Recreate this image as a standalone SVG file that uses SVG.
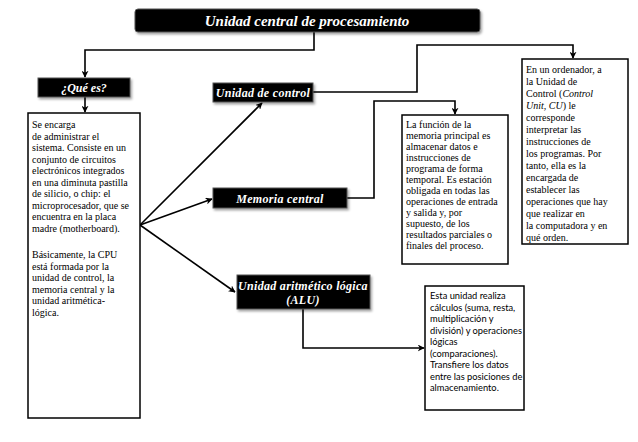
<svg xmlns="http://www.w3.org/2000/svg" width="638" height="442" viewBox="0 0 638 442">
<defs>
<marker id="ah" viewBox="0 0 10 10" refX="9" refY="5" markerWidth="7" markerHeight="7" markerUnits="userSpaceOnUse" orient="auto">
<path d="M0,0 L10,5 L0,10 L3,5 Z" fill="#000"/>
</marker>
<filter id="sh" x="-10%" y="-30%" width="120%" height="170%">
<feDropShadow dx="1.5" dy="2" stdDeviation="1" flood-color="#000" flood-opacity="0.35"/>
</filter>
</defs>
<style>
.blk{fill:#000;stroke:#555;stroke-width:1;filter:url(#sh)}
.lbl{font-weight:bold;font-style:italic;fill:#fff;text-anchor:middle}
.box{fill:#fff;stroke:#000;stroke-width:1.5}
.st{font-size:10px;fill:#000}
.ss{font-size:9.3px;fill:#000}
.c{fill:none;stroke:#000;stroke-width:1.6;marker-end:url(#ah)}
</style>
<rect width="638" height="442" fill="#fff"/>
<g id="connectors">
<path class="c" d="M314,32 V50 H85 V77"/>
<path class="c" d="M85,97 V112"/>
<path class="c" d="M140,225 L262,103"/>
<path class="c" d="M140,225 L212,199"/>
<path class="c" d="M140,225 L235,292"/>
<path class="c" d="M313,92 H417 V45 H573 V58"/>
<path class="c" d="M347,198 H374 V101 H455 V114"/>
<path class="c" d="M303,309 V348 H424"/>
</g>
<g id="title">
<rect class="blk" x="135" y="9" width="345" height="23" rx="3"/>
<text class="lbl" x="307" y="26" font-size="15" font-family="Liberation Serif, DejaVu Serif, serif">Unidad central de procesamiento</text>
</g>
<g id="que-es">
<rect class="blk" x="38" y="78" width="92" height="19"/>
<text class="lbl" x="84" y="92" font-size="12" font-family="Liberation Serif, DejaVu Serif, serif">¿Qué es?</text>
</g>
<g id="que-es-texto">
<rect class="box" x="28" y="113" width="112" height="305"/>
<text class="st" font-family="Liberation Serif, DejaVu Serif, serif">
<tspan x="32" y="128">Se encarga</tspan>
<tspan x="32" y="139.5">de administrar el</tspan>
<tspan x="32" y="151">sistema. Consiste en un</tspan>
<tspan x="32" y="162.5">conjunto de circuitos</tspan>
<tspan x="32" y="174">electrónicos integrados</tspan>
<tspan x="32" y="185.5">en una diminuta pastilla</tspan>
<tspan x="32" y="197">de silicio, o chip: el</tspan>
<tspan x="32" y="208.5">microprocesador, que se</tspan>
<tspan x="32" y="220">encuentra en la placa</tspan>
<tspan x="32" y="231.5">madre (motherboard).</tspan>
<tspan x="32" y="258">Básicamente, la CPU</tspan>
<tspan x="32" y="269.5">está formada por la</tspan>
<tspan x="32" y="281">unidad de control, la</tspan>
<tspan x="32" y="292.5">memoria central y la</tspan>
<tspan x="32" y="304">unidad aritmética-</tspan>
<tspan x="32" y="315.5">lógica.</tspan>
</text>
</g>
<g id="unidad-control">
<rect class="blk" x="213" y="83" width="100" height="19"/>
<text class="lbl" x="263" y="97" font-size="12" letter-spacing="0.3" font-family="Liberation Serif, DejaVu Serif, serif">Unidad de control</text>
</g>
<g id="memoria-central">
<rect class="blk" x="213" y="188" width="134" height="20"/>
<text class="lbl" x="280" y="203" font-size="12" letter-spacing="0.3" font-family="Liberation Serif, DejaVu Serif, serif">Memoria central</text>
</g>
<g id="alu">
<rect class="blk" x="237" y="275" width="133" height="34"/>
<text class="lbl" x="303" y="290" font-size="12" letter-spacing="0.3" font-family="Liberation Serif, DejaVu Serif, serif">Unidad aritmético lógica</text>
<text class="lbl" x="303" y="304" font-size="12" letter-spacing="0.3" font-family="Liberation Serif, DejaVu Serif, serif">(ALU)</text>
</g>
<g id="control-texto">
<rect class="box" x="522" y="59" width="106" height="185"/>
<text class="st" font-family="Liberation Serif, DejaVu Serif, serif">
<tspan x="526" y="73">En un ordenador, a</tspan>
<tspan x="526" y="85">la Unidad de</tspan>
<tspan x="526" y="97">Control (<tspan font-style="italic">Control</tspan></tspan>
<tspan x="526" y="109"><tspan font-style="italic">Unit</tspan>, <tspan font-style="italic">CU</tspan>) le</tspan>
<tspan x="526" y="121">corresponde</tspan>
<tspan x="526" y="133">interpretar las</tspan>
<tspan x="526" y="145">instrucciones de</tspan>
<tspan x="526" y="157">los programas. Por</tspan>
<tspan x="526" y="169">tanto, ella es la</tspan>
<tspan x="526" y="181">encargada de</tspan>
<tspan x="526" y="193">establecer las</tspan>
<tspan x="526" y="205">operaciones que hay</tspan>
<tspan x="526" y="217">que realizar en</tspan>
<tspan x="526" y="229">la computadora y en</tspan>
<tspan x="526" y="241">qué orden.</tspan>
</text>
</g>
<g id="memoria-texto">
<rect class="box" x="402" y="115" width="106" height="149"/>
<text class="st" font-family="Liberation Serif, DejaVu Serif, serif">
<tspan x="406" y="128">La función de la</tspan>
<tspan x="406" y="139">memoria principal es</tspan>
<tspan x="406" y="150">almacenar datos e</tspan>
<tspan x="406" y="161">instrucciones de</tspan>
<tspan x="406" y="172">programa de forma</tspan>
<tspan x="406" y="183">temporal. Es estación</tspan>
<tspan x="406" y="194">obligada en todas las</tspan>
<tspan x="406" y="205">operaciones de entrada</tspan>
<tspan x="406" y="216">y salida y, por</tspan>
<tspan x="406" y="227">supuesto, de los</tspan>
<tspan x="406" y="238">resultados parciales o</tspan>
<tspan x="406" y="249">finales del proceso.</tspan>
</text>
</g>
<g id="alu-texto">
<rect class="box" x="425" y="286" width="99" height="124"/>
<text class="ss" font-family="Lato, Liberation Sans, sans-serif">
<tspan x="430" y="299">Esta unidad realiza</tspan>
<tspan x="430" y="310.5">cálculos (suma, resta,</tspan>
<tspan x="430" y="322">multiplicación y</tspan>
<tspan x="430" y="333.5">división) y operaciones</tspan>
<tspan x="430" y="345">lógicas</tspan>
<tspan x="430" y="356.5">(comparaciones).</tspan>
<tspan x="430" y="368">Transfiere los datos</tspan>
<tspan x="430" y="379.5">entre las posiciones de</tspan>
<tspan x="430" y="391">almacenamiento.</tspan>
</text>
</g>
</svg>
